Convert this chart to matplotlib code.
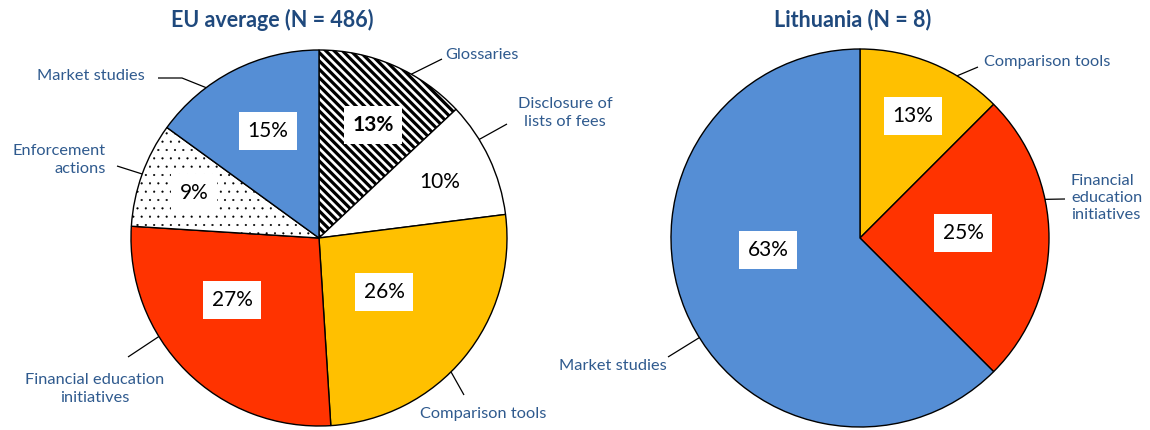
import matplotlib
matplotlib.use("Agg")
import matplotlib.pyplot as plt
import numpy as np

# ---------------- data ----------------
eu_categories = ["Glossaries", "Disclosure of\nlists of fees", "Comparison tools",
                 "Financial education\ninitiatives", "Enforcement\nactions", "Market studies"]
eu_values = [13, 10, 26, 27, 9, 15]

lt_categories = ["Comparison tools", "Financial\neducation\ninitiatives", "Market studies"]
lt_values = [12.5, 25, 62.5]

titles = ["EU average (N = 486)", "Lithuania (N = 8)"]

# ---------------- styles ----------------
FONT = "Lato"
TITLE_C = "#1F497D"
LABEL_C = "#2F5A8E"
BLUE, YELLOW, RED = "#558ED5", "#FFC000", "#FF3300"

style = {
    "Glossaries": dict(fc="white", hatch="\\\\\\\\", hlw=2.3),
    "Disclosure of\nlists of fees": dict(fc="white", hatch=None),
    "Comparison tools": dict(fc=YELLOW, hatch=None),
    "Financial education\ninitiatives": dict(fc=RED, hatch=None),
    "Financial\neducation\ninitiatives": dict(fc=RED, hatch=None),
    "Enforcement\nactions": dict(fc="white", hatch="..", hlw=0.3),
    "Market studies": dict(fc=BLUE, hatch=None),
}

W, H = 1150, 430
plt.rcParams["font.family"] = [FONT, "DejaVu Sans"]
plt.rcParams["hatch.linewidth"] = 2.3

fig = plt.figure(figsize=(11.5, 4.3), dpi=100)
ax = fig.add_axes([0, 0, 1, 1])
ax.set_xlim(0, W)
ax.set_ylim(0, H)
ax.set_aspect("equal")
ax.axis("off")


def Y(y):
    return H - y


def draw_pie(cx, cy, r, cats, vals):
    wedges, _ = ax.pie(vals, center=(cx, Y(cy)), radius=r, startangle=90,
                       counterclock=False, colors=[style[c]["fc"] for c in cats],
                       wedgeprops=dict(edgecolor="black", linewidth=1.0))
    for w, c in zip(wedges, cats):
        h = style[c]["hatch"]
        if h:
            w.set_hatch(h)
            if hasattr(w, "set_hatch_linewidth"):
                w.set_hatch_linewidth(style[c]["hlw"])
    ax.set_xlim(0, W)
    ax.set_ylim(0, H)
    return wedges


def pct_label(x, y, v, bold=False):
    ax.text(x, Y(y), f"{int(v + 0.5)}%", ha="center", va="center", fontsize=15,
            fontweight="bold" if bold else "normal", color="black",
            bbox=dict(boxstyle="square,pad=0.42", fc="white", ec="none"))


def cat_label(cx, cy, r, ang, pts, text, tx, ty, ha):
    a = np.deg2rad(ang)
    xs = [cx + r * np.cos(a)] + [p[0] for p in pts]
    ys = [Y(cy) + r * np.sin(a)] + [Y(p[1]) for p in pts]
    ax.plot(xs, ys, color="black", lw=0.9, solid_capstyle="butt")
    ax.text(tx, Y(ty), text, ha=ha, va="center", fontsize=11.8, color=LABEL_C,
            multialignment=ha, linespacing=1.3)


# ---------------- EU pie ----------------
cxL, cyL, rL = 319, 238, 188
draw_pie(cxL, cyL, rL, eu_categories, eu_values)
eu_pct_pos = [(373, 125), (440, 182), (384, 292), (232, 300), (194, 193), (268, 131)]
for (x, y), v, c in zip(eu_pct_pos, eu_values, eu_categories):
    pct_label(x, y, v, bold=(c == "Glossaries"))

eu_lbl = [
    (60.6, [(442, 59)], 445, 55, "left"),
    (31.6, [(507, 124)], 565, 113, "center"),
    (-45.4, [(464, 395)], 483, 414, "center"),
    (211.6, [(128, 357)], 95, 389, "center"),
    (160.1, [(117, 166)], 106, 160, "right"),
    (126.9, [(182, 78), (158, 78)], 145, 76, "right"),
]
for (ang, pts, tx, ty, ha), c in zip(eu_lbl, eu_categories):
    cat_label(cxL, cyL, rL, ang, pts, c, tx, ty, ha)

# ---------------- Lithuania pie ----------------
cxR, cyR, rR = 860, 238, 189
draw_pie(cxR, cyR, rR, lt_categories, lt_values)
lt_pct_pos = [(913, 116), (963, 233), (768, 250)]
for (x, y), v in zip(lt_pct_pos, lt_values):
    pct_label(x, y, v)

lt_lbl = [
    (59.1, [(978, 67)], 984, 62, "left"),
    (11.8, [(1065, 199)], 1071, 198, "left"),
    (211.8, [(668, 357)], 667, 366, "right"),
]
for (ang, pts, tx, ty, ha), c in zip(lt_lbl, lt_categories):
    cat_label(cxR, cyR, rR, ang, pts, c, tx, ty, ha)

# ---------------- titles ----------------
ax.text(272, Y(20), titles[0], ha="center", va="center", fontsize=15.5,
        fontweight="bold", color=TITLE_C)
ax.text(853, Y(20), titles[1], ha="center", va="center", fontsize=15.5,
        fontweight="bold", color=TITLE_C)

fig.savefig("out.png", dpi=100, facecolor="white")
